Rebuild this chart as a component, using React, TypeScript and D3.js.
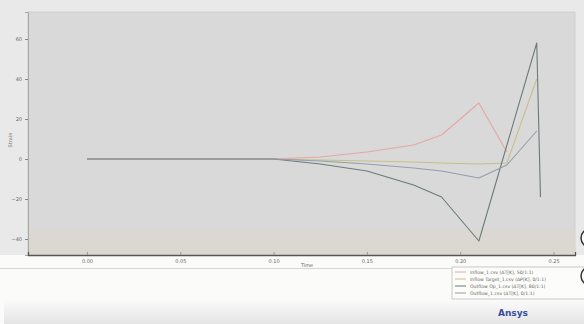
import { useEffect, useRef } from "react";
import * as d3 from "d3";

// time steps (s)
const time = [0, 0.05, 0.1, 0.125, 0.15, 0.175, 0.19, 0.21, 0.225, 0.241, 0.243];

// strain series, null = no sample at that step
const inflowA = [0, 0, 0, 1, 3.5, 7, 12, 28, 3.5, null, null];
const inflowB = [0, 0, 0, -0.5, -1, -1.5, -2, -2.5, -2, 40, null];
const outflowC = [0, 0, 0, -2.5, -6, -13, -19, -41, null, 58, -19];
const outflowD = [0, 0, 0, -1, -2.5, -4.5, -6, -9.5, -3, 14, null];

const seriesNames = [
  "Inflow_1.csv (ΔT[K], 50/1:1)",
  "Inflow Target_1.csv (ΔP[K], 0/1:1)",
  "Outflow Op_1.csv (ΔT[K], 80/1:1)",
  "Outflow_1.csv (ΔT[K], 0/1:1)",
];
const seriesColors = ["#e6a6a6", "#c6c088", "#6b7b78", "#959dac"];

const xTicks = [0, 0.05, 0.1, 0.15, 0.2, 0.25];
const yTicks = [60, 40, 20, 0, -20, -40];

const App = () => {
  const ref = useRef<SVGSVGElement>(null);

  useEffect(() => {
    const width = 584;
    const height = 324;
    const plot = { left: 28, right: 575, top: 12, bottom: 255 };

    const svg = d3.select(ref.current).attr("width", width).attr("height", height);
    svg.selectAll("*").remove();

    // page / panel backgrounds
    svg.append("rect").attr("width", width).attr("height", height).attr("fill", "#fbfbf9");
    svg.append("rect").attr("x", 0).attr("y", 0).attr("width", width).attr("height", 255).attr("fill", "#e9e9e9");
    svg
      .append("rect")
      .attr("x", plot.left)
      .attr("y", plot.top)
      .attr("width", plot.right - plot.left)
      .attr("height", plot.bottom - plot.top)
      .attr("fill", "#d9d9d9")
      .attr("stroke", "#cfcfcf");
    svg
      .append("rect")
      .attr("x", plot.left)
      .attr("y", 230)
      .attr("width", plot.right - plot.left)
      .attr("height", plot.bottom - 230)
      .attr("fill", "#dbd8d2");

    const x = d3.scaleLinear().domain([-0.0316, 0.2615]).range([plot.left, plot.right]);
    const y = d3.scaleLinear().domain([73.5, -48]).range([plot.top, plot.bottom]);

    // y axis
    const yAxis = svg
      .append("g")
      .attr("transform", `translate(${plot.left},0)`)
      .call(d3.axisLeft(y).tickValues(yTicks).tickSize(3).tickFormat(d3.format("d")));
    yAxis.select(".domain").attr("stroke", "#a8a8a8");
    yAxis.selectAll("line").attr("stroke", "#888");
    yAxis.selectAll("text").attr("font-size", 5).attr("fill", "#666").attr("font-family", "DejaVu Sans");

    // x axis
    const xAxis = svg
      .append("g")
      .attr("transform", `translate(0,${plot.bottom})`)
      .call(d3.axisTop(x).tickValues(xTicks).tickSize(3).tickFormat(d3.format(".2f")));
    xAxis.select(".domain").attr("stroke", "#555").attr("stroke-width", 1.3);
    xAxis.selectAll("line").attr("stroke", "#999");
    xAxis
      .selectAll("text")
      .attr("y", 4)
      .attr("dy", "0.7em")
      .attr("font-size", 5)
      .attr("fill", "#666")
      .attr("font-family", "DejaVu Sans");

    svg
      .append("text")
      .attr("x", 307)
      .attr("y", 267)
      .attr("text-anchor", "middle")
      .attr("font-size", 5)
      .attr("fill", "#666")
      .attr("font-family", "DejaVu Sans")
      .text("Time");
    svg
      .append("text")
      .attr("transform", "translate(12,140) rotate(-90)")
      .attr("text-anchor", "middle")
      .attr("font-size", 5)
      .attr("fill", "#777")
      .attr("font-family", "DejaVu Sans")
      .text("Strain");

    svg.append("line").attr("x1", 0).attr("x2", width).attr("y1", 268.5).attr("y2", 268.5).attr("stroke", "#d6d6d6");

    // lines
    const allSeries = [inflowA, inflowB, outflowC, outflowD];
    const line = d3
      .line<[number, number]>()
      .x((d) => x(d[0]))
      .y((d) => y(d[1]));
    allSeries.forEach((vals, i) => {
      const pts = time
        .map((t, j) => [t, vals[j]] as [number, number | null])
        .filter((p) => p[1] !== null) as [number, number][];
      svg
        .append("path")
        .datum(pts)
        .attr("d", line)
        .attr("fill", "none")
        .attr("stroke", seriesColors[i])
        .attr("stroke-width", 1.1)
        .attr("stroke-linejoin", "round");
    });

    // legend
    const lg = svg.append("g").attr("transform", "translate(452,267)");
    lg.append("rect").attr("width", 140).attr("height", 32).attr("fill", "#fcfcfa").attr("stroke", "#c8c8c8");
    seriesNames.forEach((name, i) => {
      const row = lg.append("g").attr("transform", `translate(0,${5 + i * 7})`);
      row.append("line").attr("x1", 3).attr("x2", 14).attr("stroke", seriesColors[i]).attr("stroke-width", 1);
      row
        .append("text")
        .attr("x", 18)
        .attr("dy", "0.35em")
        .attr("font-size", 4.6)
        .attr("fill", "#666")
        .attr("font-family", "DejaVu Sans")
        .text(name);
    });

    // cut-off round buttons at right edge
    [238, 276].forEach((cy) => {
      svg
        .append("circle")
        .attr("cx", 590)
        .attr("cy", cy)
        .attr("r", 9)
        .attr("fill", "#fafafa")
        .attr("stroke", "#333")
        .attr("stroke-width", 1.5);
    });

    // bottom bar
    const grad = svg.append("defs").append("linearGradient").attr("id", "bar").attr("x1", 0).attr("x2", 0).attr("y1", 0).attr("y2", 1);
    grad.append("stop").attr("offset", "0%").attr("stop-color", "#fbfbfb");
    grad.append("stop").attr("offset", "100%").attr("stop-color", "#e4e4e4");
    svg.append("rect").attr("x", 4).attr("y", 300).attr("width", width - 4).attr("height", 24).attr("fill", "url(#bar)");
    svg
      .append("text")
      .attr("x", 498)
      .attr("y", 316)
      .attr("font-size", 9)
      .attr("font-weight", "bold")
      .attr("fill", "#3d4f9c")
      .attr("font-family", "DejaVu Sans")
      .text("Ansys");
  }, []);

  return <svg ref={ref} style={{ position: "absolute", left: 0, top: 0 }}></svg>;
};

export default App;
